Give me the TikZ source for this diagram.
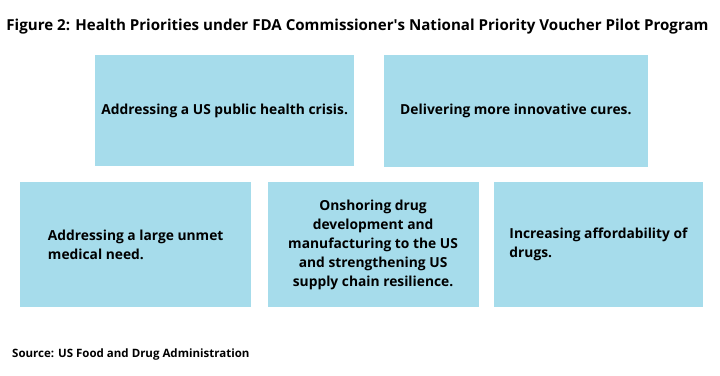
\documentclass[tikz,border=0pt]{standalone}
\usepackage{fontspec}
\setmainfont{Open Sans}
\usepackage{tikz}
\usetikzlibrary{positioning}

\definecolor{prioblue}{RGB}{166,220,235}

\begin{document}
\begin{tikzpicture}[x=1pt,y=-1pt,
    prio/.style={fill=prioblue,inner sep=0pt,minimum height=125pt,
      font=\fontsize{13.8}{19}\selectfont\bfseries,anchor=north west}]
      \useasboundingbox (0,0) rectangle (720,375);
      \node[font=\fontsize{15.1}{20}\selectfont\bfseries] (title) at (357.5,27)
        {Figure 2: Health Priorities under FDA Commissioner\textquotesingle s National Priority Voucher Pilot Program};

      \node[prio,minimum width=259pt,minimum height=111pt] (crisis) at (95,55)
        {Addressing a US public health crisis.};
      \node[prio,minimum width=263.5pt,minimum height=112pt] (cures)
        [right=29.5pt of crisis.north east,anchor=north west]
        {Delivering more innovative cures.};

      \node[prio,minimum width=231pt,align=left] (unmet) at (20,182)
        {Addressing a large unmet\\medical need.};
      \node[prio,minimum width=211pt,align=center] (onshore)
        [right=16pt of unmet.north east,anchor=north west]
        {Onshoring drug\\development and\\manufacturing to the US\\and strengthening US\\supply chain resilience.};
      \node[prio,minimum width=209pt,align=left] (afford)
        [right=15pt of onshore.north east,anchor=north west]
        {Increasing affordability of\\drugs.};

      \node[font=\fontsize{11.5}{14}\selectfont\bfseries,anchor=west,inner sep=0pt] (source) at (12,355)
        {Source: US Food and Drug Administration};
    \end{tikzpicture}
\end{document}
